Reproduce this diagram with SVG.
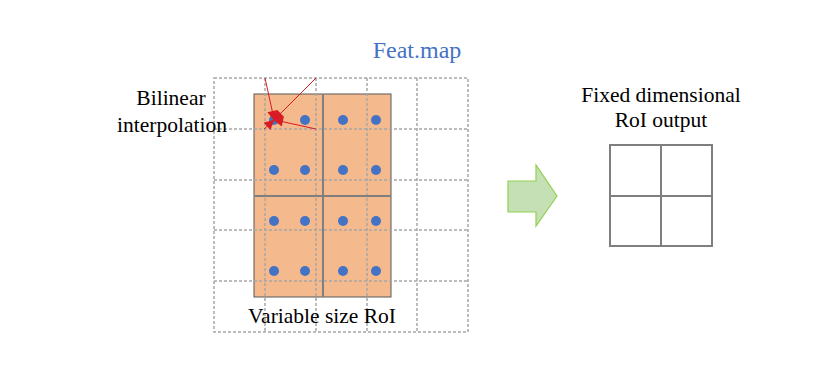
<svg xmlns="http://www.w3.org/2000/svg" width="830" height="366" viewBox="0 0 830 366">
<defs>
<style>
.t{font-family:'Liberation Serif','DejaVu Serif',serif;font-size:21.5px;fill:#000;text-anchor:middle}
.grid{stroke:#a6a6a6;stroke-width:1.5;stroke-dasharray:3 2;fill:none}
.div{stroke:#7f7f7f;stroke-width:2;fill:none}
.dot{fill:#4472c4}
.red{stroke:#d81c24;stroke-width:1;fill:none;marker-end:url(#ah)}
</style>
<marker id="ah" viewBox="0 0 10 10" refX="8" refY="5" markerWidth="11" markerHeight="10" markerUnits="userSpaceOnUse" orient="auto">
<path d="M0,0 L10,5 L0,10 z" fill="#d81c24"/>
</marker>
</defs>
<rect width="830" height="366" fill="#fff"/>
<g id="roi">
<rect x="254" y="94" width="137" height="203" fill="#f4b98c" stroke="#595959" stroke-width="1"/>
</g>
<g id="featmap">
<path class="grid" d="M214,78H468V332H214Z M265,78V332 M316,78V332 M367,78V332 M417,78V332 M214,129H468 M214,180H468 M214,230H468 M214,281H468"/>
<text x="417" y="58" class="t" style="font-size:24px;fill:#4472c4">Feat.map</text>
</g>
<g id="roi-dividers">
<path class="div" d="M323,94V297 M254,196H391"/>
</g>
<g id="samples">
<circle class="dot" cx="274" cy="120" r="5"/><circle class="dot" cx="305" cy="120" r="5"/><circle class="dot" cx="343" cy="120" r="5"/><circle class="dot" cx="376" cy="120" r="5"/>
<circle class="dot" cx="274" cy="170" r="5"/><circle class="dot" cx="305" cy="170" r="5"/><circle class="dot" cx="343" cy="170" r="5"/><circle class="dot" cx="376" cy="170" r="5"/>
<circle class="dot" cx="274" cy="221" r="5"/><circle class="dot" cx="305" cy="221" r="5"/><circle class="dot" cx="343" cy="221" r="5"/><circle class="dot" cx="376" cy="221" r="5"/>
<circle class="dot" cx="274" cy="271" r="5"/><circle class="dot" cx="305" cy="271" r="5"/><circle class="dot" cx="343" cy="271" r="5"/><circle class="dot" cx="376" cy="271" r="5"/>
</g>
<g id="connectors">
<line class="red" x1="265" y1="78" x2="274" y2="119"/>
<line class="red" x1="316" y1="78" x2="275" y2="119"/>
<line class="red" x1="316" y1="129" x2="275" y2="120"/>
<line class="red" x1="264" y1="129" x2="273" y2="121"/>
</g>
<g id="bilinear-label">
<text x="171" y="105" class="t">Bilinear</text>
<text x="172" y="132" class="t">interpolation</text>
</g>
<g id="roi-label">
<text x="322" y="323" class="t">Variable size RoI</text>
</g>
<g id="arrow">
<path d="M508,181H536V165L557,196L536,226V212H508Z" fill="#c5e0b4" stroke="#92d050" stroke-width="1.2"/>
</g>
<g id="output">
<rect x="610" y="145" width="102" height="101" fill="none" stroke="#7f7f7f" stroke-width="2"/>
<path class="div" d="M661,145V246 M610,196H712"/>
<text x="661" y="102" class="t">Fixed dimensional</text>
<text x="661" y="127" class="t">RoI output</text>
</g>
</svg>
